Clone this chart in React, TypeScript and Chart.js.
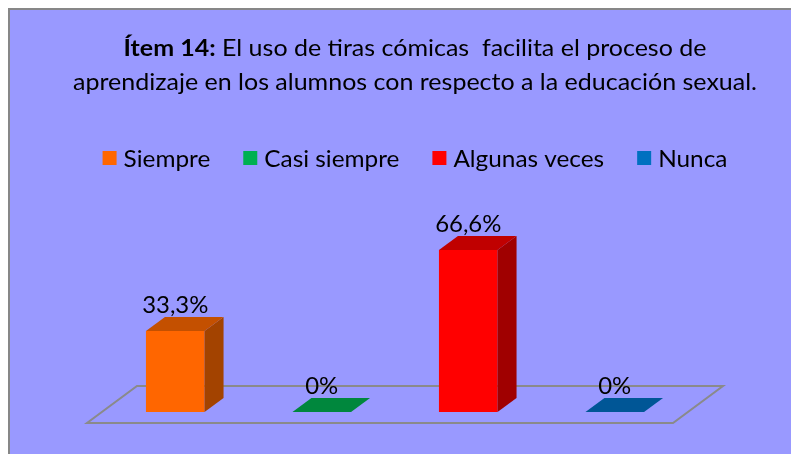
import React, { useEffect, useRef } from "react";
import { Chart, registerables } from "chart.js";

Chart.register(...registerables);

// ---- data ----
const categories = ["Siempre", "Casi siempre", "Algunas veces", "Nunca"];
const values = [33.3, 0, 66.6, 0];
const valueLabels = ["33,3%", "0%", "66,6%", "0%"];
const frontColors = ["#FF6600", "#00B050", "#FF0000", "#0070C0"];
const topColors = ["#C45000", "#00873D", "#C00000", "#005696"];
const sideColors = ["#A34300", "#006B30", "#A00000", "#004A80"];
const titleBold = "Ítem 14:";
const titleRest = " El uso de tiras cómicas  facilita el proceso de";
const titleLine2 = "aprendizaje en los alumnos con respecto a la educación sexual.";

// ---- style ----
const FONT = "Lato, 'Open Sans', sans-serif";
const FLOOR_DEPTH = { x: 50, y: -37 };
const BAR_OFFSET = { x: 15, y: -11 };
const BAR_DEPTH = { x: 19, y: -14 };
const CENTER_X = 405;

function condensedText(
  ctx: CanvasRenderingContext2D,
  text: string,
  x: number,
  y: number,
  sx: number,
  align: "left" | "center"
) {
  const w = ctx.measureText(text).width * sx;
  const startX = align === "center" ? x - w / 2 : x;
  ctx.save();
  ctx.translate(startX, y);
  ctx.scale(sx, 1);
  ctx.textAlign = "left";
  ctx.textBaseline = "alphabetic";
  ctx.fillText(text, 0, 0);
  ctx.restore();
  return w;
}

const custom3d = {
  id: "custom3d",
  beforeDatasetsDraw(chart: any) {
    const ctx: CanvasRenderingContext2D = chart.ctx;
    const a = chart.chartArea;

    // condense factor from the title's second line
    ctx.font = `23px ${FONT}`;
    const sx = 684 / ctx.measureText(titleLine2).width;

    // title
    ctx.save();
    ctx.fillStyle = "#000";
    ctx.font = `bold 23px ${FONT}`;
    const wb = ctx.measureText(titleBold).width * sx;
    ctx.font = `23px ${FONT}`;
    const wr = ctx.measureText(titleRest).width * sx;
    const tx = CENTER_X - (wb + wr) / 2;
    ctx.font = `bold 23px ${FONT}`;
    condensedText(ctx, titleBold, tx, 46, sx, "left");
    ctx.font = `23px ${FONT}`;
    condensedText(ctx, titleRest, tx + wb, 46, sx, "left");
    condensedText(ctx, titleLine2, CENTER_X, 80, sx, "center");

    // legend
    const lsx = (sx * 22.4) / 23.5;
    ctx.font = `23.5px ${FONT}`;
    const box = 14;
    const gap = 7;
    const spacing = 33;
    const widths = categories.map((c) => ctx.measureText(c).width * lsx);
    const total =
      widths.reduce((s, w) => s + w + box + gap, 0) + spacing * (categories.length - 1);
    let lx = CENTER_X - total / 2;
    categories.forEach((c, i) => {
      ctx.fillStyle = frontColors[i];
      ctx.fillRect(lx, 141, box, box);
      ctx.fillStyle = "#000";
      condensedText(ctx, c, lx + box + gap, 157, lsx, "left");
      lx += box + gap + widths[i] + spacing;
    });
    ctx.restore();

    // floor
    ctx.save();
    ctx.strokeStyle = "#8A8A8A";
    ctx.lineWidth = 2;
    ctx.beginPath();
    ctx.moveTo(a.left, a.bottom);
    ctx.lineTo(a.right, a.bottom);
    ctx.lineTo(a.right + FLOOR_DEPTH.x, a.bottom + FLOOR_DEPTH.y);
    ctx.lineTo(a.left + FLOOR_DEPTH.x, a.bottom + FLOOR_DEPTH.y);
    ctx.closePath();
    ctx.stroke();
    ctx.restore();

    // 3D bars
    const vsx = (sx * 22) / 24;
    const meta = chart.getDatasetMeta(0);
    meta.data.forEach((el: any, i: number) => {
      const { x, y, base, width } = el.getProps(["x", "y", "base", "width"], true);
      const xl = x - width / 2 + BAR_OFFSET.x;
      const xr = x + width / 2 + BAR_OFFSET.x;
      const top = y + BAR_OFFSET.y;
      const bot = base + BAR_OFFSET.y;
      ctx.save();
      if (bot - top > 0.5) {
        ctx.fillStyle = frontColors[i];
        ctx.fillRect(xl, top, xr - xl, bot - top);
        ctx.fillStyle = sideColors[i];
        ctx.beginPath();
        ctx.moveTo(xr, top);
        ctx.lineTo(xr + BAR_DEPTH.x, top + BAR_DEPTH.y);
        ctx.lineTo(xr + BAR_DEPTH.x, bot + BAR_DEPTH.y);
        ctx.lineTo(xr, bot);
        ctx.closePath();
        ctx.fill();
      }
      ctx.fillStyle = topColors[i];
      ctx.beginPath();
      ctx.moveTo(xl, top);
      ctx.lineTo(xl + BAR_DEPTH.x, top + BAR_DEPTH.y);
      ctx.lineTo(xr + BAR_DEPTH.x, top + BAR_DEPTH.y);
      ctx.lineTo(xr, top);
      ctx.closePath();
      ctx.fill();

      ctx.fillStyle = "#000";
      ctx.font = `24px ${FONT}`;
      condensedText(ctx, valueLabels[i], (xl + xr) / 2, top + BAR_DEPTH.y - 4, vsx, "center");
      ctx.restore();
    });
  },
};

export default function App() {
  const ref = useRef<HTMLCanvasElement | null>(null);
  useEffect(() => {
    document.documentElement.style.overflow = "hidden";
    document.body.style.overflow = "hidden";
    if (!ref.current) return;
    const chart = new Chart(ref.current, {
      type: "bar",
      data: {
        labels: categories,
        datasets: [
          {
            label: "Ítem 14",
            data: values,
            backgroundColor: "rgba(0,0,0,0)",
            borderWidth: 0,
            categoryPercentage: 1,
            barPercentage: 0.4,
          },
        ],
      },
      options: {
        responsive: false,
        animation: false,
        layout: { padding: { left: 77, right: 147, top: 218.4, bottom: 37 } },
        scales: {
          x: { display: false, grid: { display: false } },
          y: { display: false, min: 0, max: 80, grid: { display: false } },
        },
        plugins: {
          legend: { display: false },
          title: { display: false },
          tooltip: { enabled: false },
        },
      },
      plugins: [custom3d],
    });
    return () => chart.destroy();
  }, []);

  return (
    <div
      style={{
        position: "fixed",
        left: 8,
        top: 8,
        width: 814,
        height: 454,
        border: "2px solid #878787",
        background: "#9999FF",
        overflow: "hidden",
      }}
    >
      <canvas ref={ref} width={810} height={450} style={{ display: "block" }} />
    </div>
  );
}
